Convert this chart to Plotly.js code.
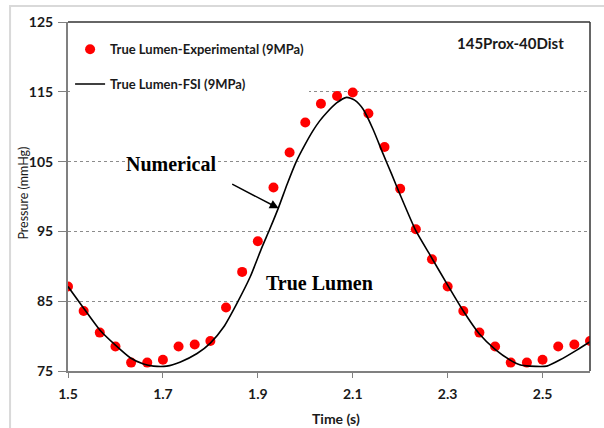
<!DOCTYPE html>
<html>
<head>
<meta charset="utf-8">
<script src="https://cdn.plot.ly/plotly-3.0.1.min.js"></script>
<style>html,body{margin:0;padding:0;background:#fff;}#chart{width:604px;height:428px;}</style>
</head>
<body>
<div id="chart"></div>
<script>
// Experimental data (red dots)
var expTime = [1.500, 1.533, 1.567, 1.600, 1.633, 1.667, 1.700, 1.733, 1.767, 1.800,
               1.833, 1.867, 1.900, 1.933, 1.967, 2.000, 2.033, 2.067, 2.100, 2.133,
               2.167, 2.200, 2.233, 2.267, 2.300, 2.333, 2.367, 2.400, 2.433, 2.467,
               2.500, 2.533, 2.567, 2.600];
var expPressure = [87.1, 83.6, 80.5, 78.5, 76.2, 76.2, 76.6, 78.5, 78.8, 79.3,
                   84.1, 89.2, 93.6, 101.3, 106.3, 110.6, 113.3, 114.4, 114.9, 111.9,
                   107.1, 101.1, 95.3, 91.0, 87.1, 83.6, 80.5, 78.5, 76.2, 76.2,
                   76.6, 78.5, 78.8, 79.3];

// FSI numerical curve (black line)
var fsiTime = [1.500, 1.533, 1.568, 1.600, 1.631, 1.659, 1.680, 1.708, 1.737, 1.772,
               1.800, 1.828, 1.856, 1.884, 1.908, 1.925, 1.943, 1.962, 1.981, 2.000,
               2.016, 2.030, 2.045, 2.066, 2.087, 2.104, 2.122, 2.143, 2.164, 2.182,
               2.199, 2.233, 2.263, 2.301, 2.333, 2.367, 2.400, 2.431, 2.452, 2.473,
               2.509, 2.537, 2.572, 2.600];
var fsiPressure = [87.1, 84.0, 80.8, 78.7, 76.9, 76.0, 75.7, 75.7, 76.3, 77.5,
                   79.0, 81.3, 84.7, 88.5, 92.6, 95.3, 98.3, 101.8, 105.0, 107.5,
                   109.4, 110.8, 112.0, 113.4, 114.2, 113.8, 112.5, 109.6, 106.1, 103.2,
                   100.4, 95.1, 91.6, 87.2, 83.6, 80.3, 78.1, 76.6, 75.9, 75.7,
                   75.7, 76.6, 78.0, 79.2];

var xTickVals = [1.5, 1.7, 1.9, 2.1, 2.3, 2.5];
var xTickText = ['1.5', '1.7', '1.9', '2.1', '2.3', '2.5'];
var yTickVals = [75, 85, 95, 105, 115, 125];
var yTickText = ['75', '85', '95', '105', '115', '125'];

var seriesNames = ['True Lumen-Experimental (9MPa)', 'True Lumen-FSI (9MPa)'];

var traces = [
  {
    x: expTime, y: expPressure, type: 'scatter', mode: 'markers',
    name: seriesNames[0], legendgroup: 'a',
    marker: {color: '#ff0000', size: 10}
  },
  {
    x: fsiTime, y: fsiPressure, type: 'scatter', mode: 'lines',
    name: seriesNames[1], legendgroup: 'b',
    line: {color: '#000000', width: 1.6, shape: 'spline', smoothing: 0.6}
  }
];

var sans = 'Lato, "Open Sans", sans-serif';
var serif = '"Liberation Serif", "DejaVu Serif", serif';
var tickFont = {family: sans, size: 14, color: '#1a1a1a', weight: 'bold'};

var layout = {
  width: 604, height: 428,
  margin: {l: 68, r: 14, t: 22, b: 57},
  paper_bgcolor: '#ffffff', plot_bgcolor: '#ffffff',
  showlegend: true,
  legend: {
    x: 0.004, y: 0.965, xanchor: 'left', yanchor: 'top',
    bgcolor: '#ffffff',
    font: {family: sans, size: 13, color: '#1a1a1a', weight: 'bold'},
    tracegroupgap: 15
  },
  xaxis: {
    range: [1.5, 2.6],
    tickvals: xTickVals, ticktext: xTickText,
    tickfont: tickFont,
    ticks: 'outside', ticklen: 5, tickcolor: '#808080', tickwidth: 1,
    ticklabelstandoff: 4,
    showline: true, linecolor: '#808080', linewidth: 2,
    showgrid: false, zeroline: false,
    title: {text: ''}
  },
  yaxis: {
    range: [75, 125],
    tickvals: yTickVals, ticktext: yTickText,
    tickfont: tickFont,
    ticks: 'outside', ticklen: 8, tickcolor: '#808080', tickwidth: 1,
    ticklabelstandoff: 2,
    showline: true, linecolor: '#808080', linewidth: 2,
    showgrid: true, gridcolor: '#8c8c8c', gridwidth: 1, griddash: 'dot',
    zeroline: false,
    title: {text: ''}
  },
  shapes: [
    // outer light frame of the figure
    {type: 'rect', xref: 'paper', yref: 'paper', x0: -0.111, x1: 1.2, y0: -0.3, y1: 1.046,
     line: {color: '#d9d9d9', width: 2}, fillcolor: 'rgba(0,0,0,0)', layer: 'below'},
    // top and right dark borders of the plot area
    {type: 'line', xref: 'paper', yref: 'paper', x0: 0, x1: 1, y0: 1, y1: 1,
     line: {color: '#333333', width: 1.5}},
    {type: 'line', xref: 'paper', yref: 'paper', x0: 1, x1: 1, y0: 0, y1: 1,
     line: {color: '#333333', width: 1.5}}
  ],
  annotations: [
    // axis titles
    {xref: 'paper', yref: 'paper', x: -0.087, y: 0.51, xanchor: 'center', yanchor: 'middle',
     text: 'Pressure (mmHg)', textangle: -90, showarrow: false,
     font: {family: sans, size: 12.5, color: '#1a1a1a'}},
    {xref: 'paper', yref: 'paper', x: 0.513, y: -0.135, xanchor: 'center', yanchor: 'middle',
     text: 'Time (s)', showarrow: false,
     font: {family: sans, size: 14, color: '#1a1a1a', weight: 'bold'}},
    {xref: 'paper', yref: 'paper', x: 0.847, y: 0.94, xanchor: 'center', yanchor: 'middle',
     text: '145Prox-40Dist', showarrow: false,
     font: {family: sans, size: 15, color: '#1a1a1a', weight: 'bold'}},
    {xref: 'x', yref: 'y', x: 1.716, y: 104.66, xanchor: 'center', yanchor: 'middle',
     text: 'Numerical', showarrow: false, bgcolor: '#ffffff', borderpad: 0,
     font: {family: serif, size: 20, color: '#000000', weight: 'bold'}},
    {xref: 'x', yref: 'y', x: 2.031, y: 87.6, xanchor: 'center', yanchor: 'middle',
     text: 'True Lumen', showarrow: false,
     font: {family: serif, size: 20, color: '#000000', weight: 'bold'}},
    {xref: 'x', yref: 'y', x: 1.944, y: 98.3, text: '', showarrow: true,
     ax: -48, ay: -25, axref: 'pixel', ayref: 'pixel',
     arrowhead: 2, arrowsize: 1.2, arrowwidth: 1.5, arrowcolor: '#000000', standoff: 0}
  ]
};

Plotly.newPlot('chart', traces, layout, {displayModeBar: false, staticPlot: true});
</script>
</body>
</html>
